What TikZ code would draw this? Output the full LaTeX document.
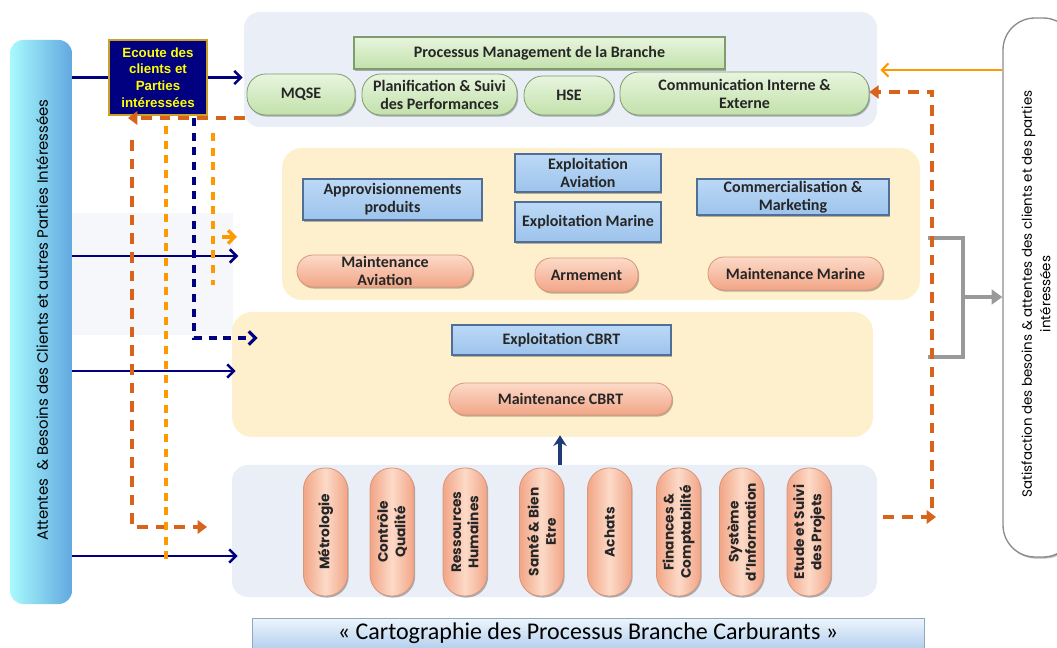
\documentclass[tikz,border=0pt]{standalone}
\usepackage{fontspec}
\setmainfont{Carlito}
\newfontfamily\popfont{Poppins}
\newfontfamily\arfont{Liberation Sans}
\usetikzlibrary{arrows.meta,shadows,calc}
\definecolor{cNavy}{HTML}{000080}
\definecolor{cNavyB}{HTML}{1F3A78}
\definecolor{cGold}{HTML}{C9A227}
\definecolor{cYel}{HTML}{FFFF00}
\definecolor{cPanel}{HTML}{E9EEF7}
\definecolor{cFaint}{HTML}{F5F7FA}
\definecolor{cCream}{HTML}{FFF0CD}
\definecolor{cBlueT}{HTML}{BCD9F6}
\definecolor{cBlueB}{HTML}{9DC3EC}
\definecolor{cBlueD}{HTML}{4F6F98}
\definecolor{cOrT}{HTML}{FCDAC8}
\definecolor{cOrB}{HTML}{F2A586}
\definecolor{cOrD}{HTML}{D9967A}
\definecolor{cGrT}{HTML}{E8F5DE}
\definecolor{cGrB}{HTML}{C2E1AB}
\definecolor{cGrD}{HTML}{7F9C6E}
\definecolor{cOrange}{HTML}{FF9900}
\definecolor{cDkOr}{HTML}{D8641C}
\definecolor{cGray}{HTML}{999999}
\definecolor{cCyan}{HTML}{A8FAFD}
\definecolor{cSteel}{HTML}{62A8E0}
\definecolor{cBanT}{HTML}{EEF5FC}
\definecolor{cBanB}{HTML}{B5D1EE}
\tikzset{
  shd/.style={drop shadow={shadow xshift=0.9pt,shadow yshift=-1.2pt,fill=black,opacity=0.28}},
  panel/.style={fill=cPanel,rounded corners=12pt,inner sep=0pt},
  cream/.style={fill=cCream,rounded corners=15pt,inner sep=0pt},
  lbl/.style={font=\bfseries\fontsize{12}{13.5}\selectfont,align=center,inner sep=1pt,text=black!85},
  bluebox/.style={lbl,shd,draw=cBlueD,line width=1pt,top color=cBlueT,bottom color=cBlueB},
  orpill/.style={lbl,shd,draw=cOrD,line width=0.6pt,top color=cOrT,bottom color=cOrB,rounded corners=12pt},
  grpill/.style={lbl,shd,draw=cGrD,line width=0.6pt,top color=cGrT,bottom color=cGrB,rounded corners=14pt},
  suppill/.style={shd,draw=cOrD,line width=0.6pt,left color=cOrB,right color=cOrB,middle color=cOrT,
    rounded corners=16pt,rotate=90,minimum width=96pt,minimum height=33pt,inner sep=0pt,
    font=\popfont\bfseries\fontsize{10.3}{13}\selectfont,align=center,text=black!85},
  navyarr/.style={draw=cNavy,line width=1.9pt,-{Straight Barb[length=5pt,width=10pt,line width=1.9pt]}},
  navyln/.style={draw=cNavy,line width=1.9pt},
  orarr/.style={draw=cOrange,line width=1.7pt,-{Straight Barb[length=5pt,width=10pt,line width=1.7pt]}},
  dkor/.style={draw=cDkOr,line width=2.7pt,dash pattern=on 8pt off 6pt},
  orda/.style={draw=cOrange,line width=2.5pt,dash pattern=on 6pt off 5pt},
  nvda/.style={draw=cNavy,line width=2.5pt,dash pattern=on 6pt off 5pt},
}
\begin{document}
\begin{tikzpicture}[x=0.75pt,y=-0.75pt]
\useasboundingbox (0,0) rectangle (1057,648);
% faint background panel
\node[fill=cFaint,minimum width={161*0.75pt},minimum height={122*0.75pt},inner sep=0pt] (fp) at (152.5,274) {};
% left bar
\node[rounded corners=10pt,left color=cCyan,right color=cSteel,minimum width={62*0.75pt},minimum height={564*0.75pt},inner sep=0pt] (lb) at (41,322) {};
\node[rotate=90,font=\popfont\fontsize{11.2}{13}\selectfont,text=black] at (42,320) {Attentes\ \ \& Besoins des Clients et autres Parties Intéressées};
% right bar
\node[shd,draw=black!45,line width=1pt,fill=white,rounded corners=24pt,minimum width={72*0.75pt},minimum height={539*0.75pt},inner sep=0pt] (rb) at (1039,287.5) {};
\node[rotate=90,font=\popfont\fontsize{10.1}{14}\selectfont,align=center,text=black] at (1036,294) {Satisfaction des besoins \& attentes des clients et des parties\\intéressées};
% Ecoute box
\node[fill=cNavy,draw=cGold,line width=0.8pt,minimum width={98*0.75pt},minimum height={75*0.75pt},inner sep=0pt,
  font=\arfont\bfseries\fontsize{10}{12.4}\selectfont,text=cYel,align=center] (ec) at (158,77.5) {Ecoute des\\clients et\\Parties\\intéressées};
% top panel
\node[panel,minimum width={633*0.75pt},minimum height={115*0.75pt}] (tp) at (560.5,69.5) {};
\node[lbl,shd,draw=cGrD,line width=0.9pt,top color=cGrT,bottom color=cGrB,minimum width={371*0.75pt},minimum height={32*0.75pt}] (pmb) at (539.5,53) {Processus Management de la Branche};
\node[grpill,minimum width={108*0.75pt},minimum height={41*0.75pt}] (mqse) at (301,94.5) {MQSE};
\node[grpill,minimum width={155*0.75pt},minimum height={41*0.75pt}] (plan) at (439.5,94.5) {Planification \& Suivi\\des Performances};
\node[grpill,minimum width={90*0.75pt},minimum height={39*0.75pt}] (hse) at (569,95.5) {HSE};
\node[grpill,minimum width={249*0.75pt},minimum height={43*0.75pt}] (comm) at (744.5,93.5) {Communication Interne \&\\Externe};
% middle panel
\node[cream,minimum width={638*0.75pt},minimum height={152*0.75pt}] (mp) at (601,224) {};
\node[bluebox,minimum width={179*0.75pt},minimum height={41*0.75pt}] (appro) at (392.5,199.5) {Approvisionnements\\produits};
\node[bluebox,minimum width={146*0.75pt},minimum height={38*0.75pt}] (expav) at (588,173) {Exploitation\\Aviation};
\node[bluebox,minimum width={146*0.75pt},minimum height={40*0.75pt}] (expma) at (588,222) {Exploitation Marine};
\node[bluebox,minimum width={192*0.75pt},minimum height={36*0.75pt}] (comme) at (793,197) {Commercialisation \&\\Marketing};
\node[orpill,minimum width={176*0.75pt},minimum height={32*0.75pt}] (mav) at (385,271) {Maintenance\\Aviation};
\node[orpill,minimum width={103*0.75pt},minimum height={34*0.75pt}] (arm) at (586.5,275) {Armement};
\node[orpill,minimum width={175*0.75pt},minimum height={33*0.75pt}] (mma) at (795.5,273.5) {Maintenance Marine};
% CBRT panel
\node[cream,minimum width={641*0.75pt},minimum height={125*0.75pt}] (cp) at (552.5,374.5) {};
\node[bluebox,minimum width={219*0.75pt},minimum height={30*0.75pt}] (ecbrt) at (561.5,340) {Exploitation CBRT};
\node[orpill,minimum width={223*0.75pt},minimum height={32*0.75pt}] (mcbrt) at (560.5,399) {Maintenance CBRT};
% support panel
\node[panel,minimum width={645*0.75pt},minimum height={132*0.75pt}] (sp) at (554.5,531) {};
\node[suppill] (s1) at (325.5,532) {Métrologie};
\node[suppill] (s2) at (392,532) {Contrôle\\Qualité};
\node[suppill] (s3) at (465,532) {Ressources\\Humaines};
\node[suppill] (s4) at (541.5,532) {Santé \& Bien\\Etre};
\node[suppill] (s5) at (609.5,532) {Achats};
\node[suppill] (s6) at (678.5,532) {Finances \&\\Comptabilité};
\node[suppill] (s7) at (741.5,532) {Système\\d’Information};
\node[suppill] (s8) at (809,532) {Etude et Suivi\\des Projets};
% banner
\node[shd,top color=cBanT,bottom color=cBanB,draw=cBanB!80!black,line width=0.4pt,minimum width={672*0.75pt},minimum height={30*0.75pt},inner sep=0pt,
  font=\fontsize{18}{19}\selectfont,text=black] (bn) at (588,633) {« Cartographie des Processus Branche Carburants »};
% ---- connectors ----
\coordinate (y256) at (0,256);
\coordinate (y371) at (0,371);
\coordinate (y556) at (0,556);
\coordinate (y70) at (0,70);
\coordinate (y517) at (0,517);
\coordinate (x560) at (560,0);
\draw[navyln] (lb.east |- ec.west) -- (ec.west);
\draw[navyarr] (ec.east) -- ($(ec.east -| tp.west)+(-1,0)$);
\draw[navyarr] (lb.east |- y256) -- ($(fp.east |- y256)+(5,0)$);
\draw[navyarr] (lb.east |- y371) -- ($(cp.west |- y371)+(4,0)$);
\draw[navyarr] (lb.east |- y556) -- ($(sp.west |- y556)+(6,0)$);
\draw[orarr] (rb.west |- y70) -- ($(tp.east |- y70)+(3,0)$);
\draw[-{Stealth[length=8pt,width=10pt]},draw=cNavyB,fill=cNavyB,line width=2.4pt] (sp.north -| x560) -- ($(cp.south -| x560)+(0,-2)$);
% gray bracket
\coordinate (g1) at (928,238);
\coordinate (g2) at (928,357);
\coordinate (gv) at (963,297);
\draw[cGray,line width=2.6pt] (g1) -- (g1 -| gv) -- (g2 -| gv) -- (g2);
\draw[cGray,line width=2.6pt,-{Triangle[length=8pt,width=11pt]}] (gv) -- (rb.west |- gv);
% dark orange dashed
\coordinate (d1) at (245,118);
\coordinate (d1e) at (128,118);
\draw[dkor,-{Triangle[length=7pt,width=10pt]}] (d1) -- (d1e);
\coordinate (d2) at (132,140);
\coordinate (d2c) at (132,527);
\coordinate (d2e) at (207,527);
\draw[dkor,-{Triangle[length=7pt,width=10pt]}] (d2) -- (d2c) -- (d2e);
\coordinate (d3) at (sp.east |- y517);
\coordinate (d3e) at (936,517);
\draw[dkor,-{Triangle[length=7pt,width=10pt]}] ($(d3)+(6,0)$) -- (d3e);
\coordinate (d4) at (932,508);
\coordinate (d4c) at (932,92);
\draw[dkor,-{Triangle[length=7pt,width=10pt]}] (d4) -- (d4c) -- (comm.east |- d4c);
% orange dashed
\coordinate (o1) at (166,126);
\coordinate (o1e) at (166,562);
\draw[orda] (o1) -- (o1e);
\coordinate (o2) at (213,133);
\coordinate (o2e) at (213,285);
\draw[orda] (o2) -- (o2e);
\coordinate (o3) at (222,237);
\coordinate (o3e) at (237,237);
\draw[draw=cOrange,line width=2.5pt,-{Straight Barb[length=5pt,width=10pt,line width=2.5pt]}] (o3) -- (o3e);
% navy dashed
\coordinate (n1) at (194,118);
\coordinate (n1c) at (194,338);
\coordinate (n1e) at (cp.west |- n1c);
\draw[nvda,-{Straight Barb[length=5pt,width=10pt,line width=2.5pt]}] (n1) -- (n1c) -- ($(n1e)+(26,0)$);
\end{tikzpicture}
\end{document}
